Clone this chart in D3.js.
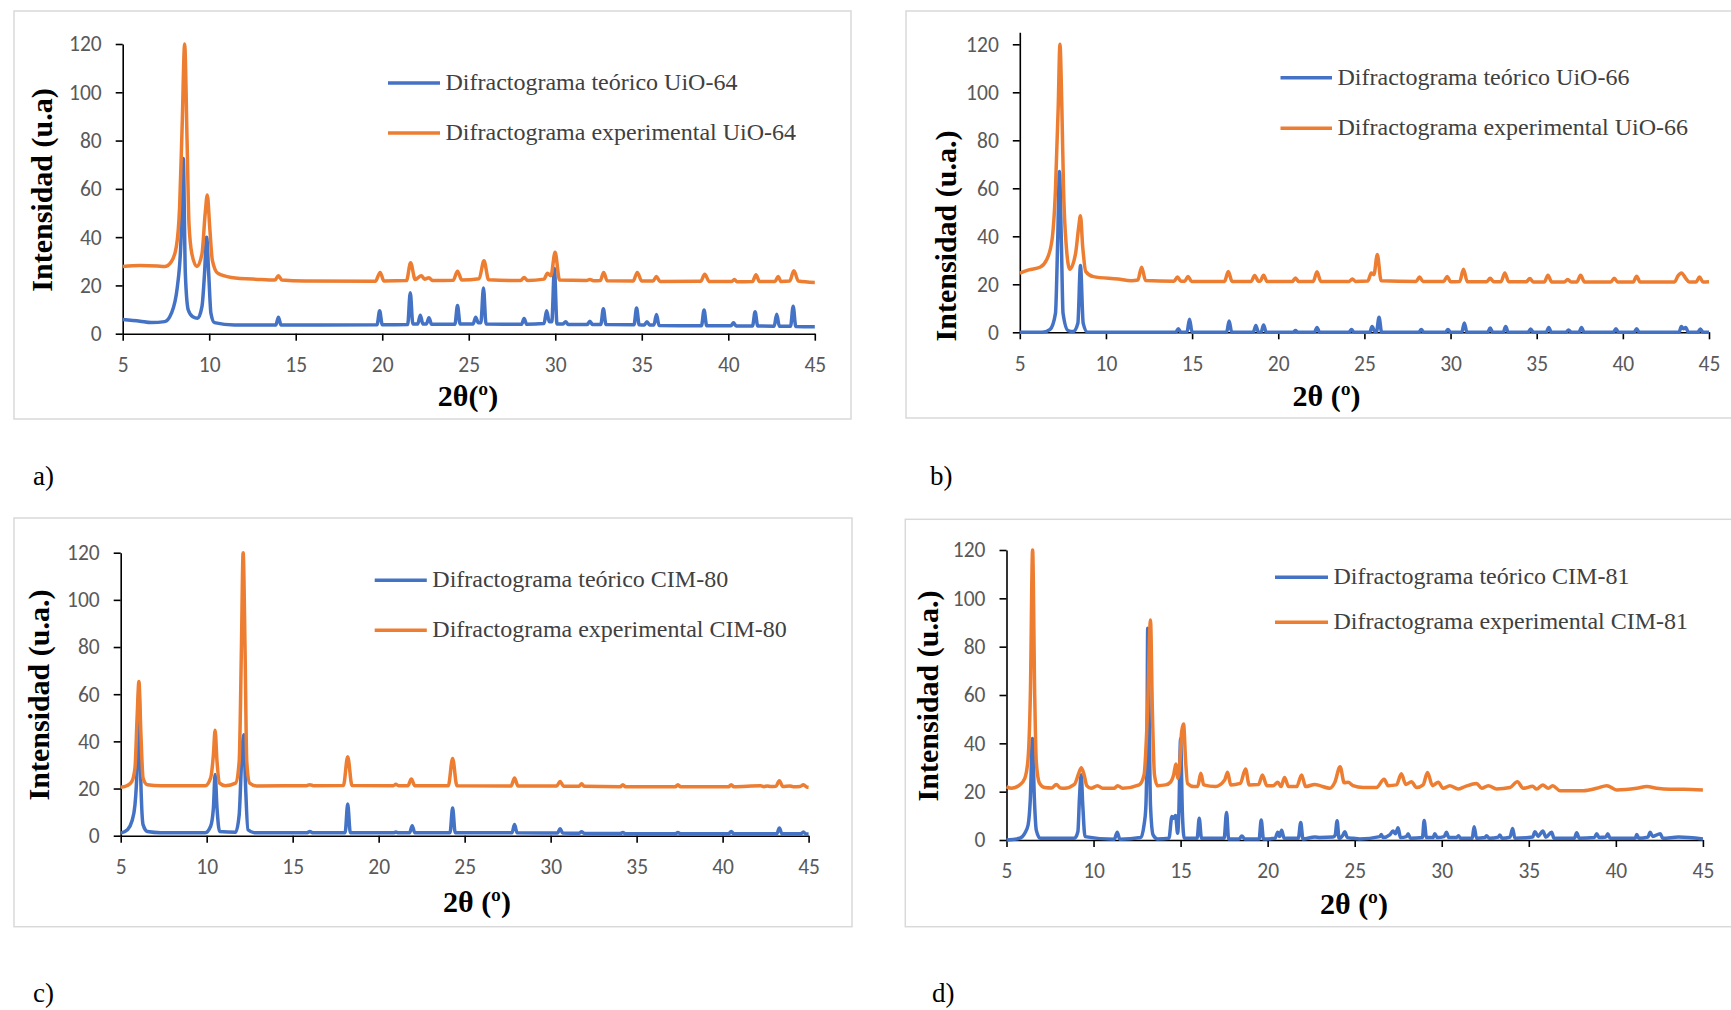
<!DOCTYPE html>
<html>
<head>
<meta charset="utf-8">
<script src="https://cdn.jsdelivr.net/npm/d3@7"></script>
<style>
  body { margin: 0; background: #fff; }
  svg { display: block; }
  .tick text { font-family: Carlito, Calibri, "Liberation Sans", sans-serif; font-size: 21.5px; fill: #595959; }
</style>
</head>
<body>
<svg id="chart" width="1731" height="1010"></svg>
<script>
var theoA = [[5,5.9],[6,5.2],[6.65,4.6],[7.43,5],[7.81,8.4],[8.16,19.5],[8.37,38.8],[8.5,72.6],[8.62,25],[8.79,9.8],[9.05,7],[9.33,6.4],[9.58,11.2],[9.73,25],[9.85,40],[9.97,25],[10.1,8.4],[10.3,4.6],[11.45,3.6],[13.85,3.6],[14.0,6.8],[14.15,3.6],[19.7,3.7],[19.85,9.5],[20.0,3.7],[21.47,3.8],[21.62,17],[21.77,4],[22.05,4],[22.2,7.6],[22.35,4],[22.55,4],[22.7,6.6],[22.85,3.9],[24.2,3.9],[24.35,11.7],[24.5,4],[25.25,4],[25.4,6.8],[25.55,4.5],[25.7,4.5],[25.85,18.9],[26.0,4],[28.05,3.9],[28.2,6.3],[28.35,3.9],[29.35,4.2],[29.5,9.5],[29.65,5],[29.8,5],[29.95,27],[30.1,4],[30.45,4],[30.6,5],[30.75,3.8],[31.85,3.8],[32.0,5.2],[32.15,3.8],[32.63,3.8],[32.78,10.3],[32.93,3.8],[34.55,3.7],[34.7,10.6],[34.85,3.7],[35.15,3.6],[35.3,5],[35.45,3.6],[35.7,3.6],[35.85,8],[36.0,3.4],[38.45,3.3],[38.6,9.8],[38.75,3.3],[40.15,3.3],[40.3,4.5],[40.45,3.2],[41.4,3.2],[41.55,9.1],[41.7,3.2],[42.65,3.1],[42.8,8.1],[42.95,3.1],[43.6,3.1],[43.75,11.4],[43.9,3],[45,2.9]];
var expA = [[5,27.8],[6,28.2],[7,28],[7.43,27.8],[7.81,29.8],[8.1,36],[8.29,52.6],[8.44,87],[8.58,120],[8.72,80],[8.83,45.7],[9.0,33],[9.29,27.8],[9.58,33],[9.77,50],[9.89,57.5],[10.03,44],[10.18,30.5],[10.5,25],[11.28,23.3],[12.82,22.5],[13.8,22.2],[14.0,24],[14.2,22.2],[15.5,21.8],[19.6,21.7],[19.88,25.4],[20.1,21.8],[21.4,22],[21.64,29.4],[21.9,22.5],[22.26,24],[22.45,22.6],[22.7,23.2],[22.9,22],[24.1,22.1],[24.35,25.9],[24.6,22.2],[25.6,22.8],[25.88,30.2],[26.15,22.3],[28.0,22],[28.2,23.3],[28.4,22],[29.35,22.6],[29.55,25],[29.75,24],[29.99,33.7],[30.25,22.2],[31.8,22],[32.0,22.5],[32.2,21.9],[32.6,22],[32.8,25.4],[33.0,21.9],[34.5,21.8],[34.74,25.4],[35.0,21.8],[35.65,21.8],[35.85,23.7],[36.05,21.6],[38.4,21.7],[38.64,24.6],[38.9,21.6],[40.2,21.6],[40.35,22.5],[40.5,21.5],[41.4,21.6],[41.6,24.4],[41.8,21.6],[42.7,21.6],[42.88,23.7],[43.05,21.6],[43.55,21.8],[43.79,26.1],[44.05,21.8],[45,21.2]];

var theoB = [[5,0],[6.3,0],[6.76,1.25],[7.07,7.9],[7.2,38.5],[7.3,67],[7.41,38.5],[7.51,7.9],[7.8,0.7],[8.1,0.3],[8.37,3.75],[8.52,27.8],[8.68,3.75],[8.94,0],[14.05,0],[14.2,1.5],[14.35,0],[14.7,0],[14.85,5.4],[15.0,0],[17.0,0],[17.15,4.7],[17.3,0],[18.55,0],[18.7,2.8],[18.85,0],[19.0,0],[19.15,3],[19.3,0],[20.85,0],[21,0.7],[21.15,0],[22.1,0],[22.25,2],[22.4,0],[24.1,0],[24.25,1.2],[24.4,0],[25.3,0],[25.45,2.4],[25.6,0.3],[25.7,0.3],[25.85,6.25],[26.0,0],[28.15,0],[28.3,1.2],[28.45,0],[29.7,0],[29.85,1.2],[30,0],[30.65,0],[30.8,3.9],[30.95,0],[32.15,0],[32.3,1.8],[32.45,0],[33.05,0],[33.2,2.4],[33.35,0],[34.5,0],[34.65,1.4],[34.8,0],[35.55,0],[35.7,2],[35.85,0],[36.7,0],[36.85,1],[37.0,0],[37.45,0],[37.6,2],[37.75,0],[39.45,0],[39.6,1.5],[39.75,0],[40.65,0],[40.8,1.5],[40.95,0],[43.25,0],[43.4,2.4],[43.52,1.5],[43.65,2],[43.8,0],[44.35,0],[44.5,1.4],[44.65,0],[45,0]];
var expB = [[5,24.6],[5.52,26],[6.17,27.1],[6.55,30.1],[6.87,38.5],[7.07,59.3],[7.23,94],[7.33,120],[7.44,94],[7.54,59.3],[7.7,35.7],[7.9,26.3],[8.24,33],[8.42,44],[8.52,48.6],[8.65,35.7],[8.83,25.3],[9.27,23.2],[10.7,22.2],[11.48,21.5],[11.85,21.8],[12.07,27.1],[12.3,21.6],[13.95,21.3],[14.15,23],[14.35,21.3],[14.57,21.3],[14.77,23.3],[14.97,21.2],[16.88,21.2],[17.1,25.3],[17.32,21.2],[18.43,21.2],[18.63,23.7],[18.85,21.3],[18.95,21.3],[19.15,23.8],[19.35,21.2],[20.82,21.2],[21,22.6],[21.18,21.2],[22.03,21.2],[22.25,25.2],[22.47,21.2],[24.12,21.2],[24.3,22.2],[24.48,21.2],[25.2,21.4],[25.4,24.7],[25.55,24],[25.75,32.4],[25.97,21.5],[28.0,21.2],[28.2,23],[28.4,21.2],[29.6,21.2],[29.8,23.3],[30.0,21.1],[30.53,21.2],[30.75,26.3],[30.97,21.1],[32.1,21.1],[32.3,22.5],[32.5,21.1],[32.93,21.1],[33.15,24.7],[33.37,21.1],[34.4,21.1],[34.6,22.4],[34.8,21],[35.45,21],[35.65,23.8],[35.87,21],[36.6,21],[36.8,22],[37.0,21],[37.33,21],[37.55,23.8],[37.77,21],[39.3,21],[39.5,22.5],[39.7,21],[40.6,21],[40.8,23.4],[41.0,21],[43.0,21],[43.2,23.5],[43.4,24.7],[43.65,22.5],[43.85,21],[44.25,21],[44.45,23],[44.65,21],[45,21.1]];

var theoC = [[5,1.1],[5.39,2.5],[5.65,6.1],[5.83,13.1],[5.96,30],[6.06,62],[6.17,23],[6.3,4.7],[6.55,1.8],[7.33,1.3],[9.92,1.3],[10.23,4],[10.39,11.7],[10.49,26],[10.6,11.7],[10.75,1.8],[11.68,1.5],[11.89,8.9],[12.02,30],[12.15,42.8],[12.25,23],[12.4,2.5],[12.77,1.3],[15.85,1.3],[16,1.8],[16.15,1.3],[18.05,1.3],[18.2,13.4],[18.35,1.3],[20.9,1.3],[21,1.6],[21.1,1.3],[21.8,1.3],[21.95,4.2],[22.1,1.3],[24.15,1.3],[24.3,11.7],[24.45,1.3],[27.75,1.2],[27.9,4.7],[28.05,1.2],[30.4,1.1],[30.55,3],[30.7,1.1],[31.65,1],[31.8,1.7],[31.95,1],[34.05,0.9],[34.2,1.4],[34.35,0.8],[37.25,0.8],[37.4,1.4],[37.55,0.8],[40.35,0.8],[40.5,1.8],[40.65,0.8],[43.15,0.8],[43.3,3.3],[43.45,0.8],[44.55,0.8],[44.7,1.6],[44.85,0.7],[45,0.7]];
var expC = [[5,20.5],[5.39,21.3],[5.65,23],[5.83,28.7],[5.96,51.3],[6.06,65.4],[6.17,44.2],[6.3,24.5],[6.55,21.6],[7.33,21.2],[9.92,21.2],[10.23,24.5],[10.39,34.3],[10.49,44.7],[10.6,31.5],[10.75,22.3],[11.08,21.2],[11.68,22.3],[11.89,31.5],[12.02,79.6],[12.12,120],[12.23,79.6],[12.33,31.5],[12.5,22.3],[12.9,21.1],[15.8,21.2],[16,21.6],[16.2,21.2],[17.95,21.3],[18.2,33.5],[18.45,21.3],[20.85,21.2],[21,21.8],[21.15,21.2],[21.7,21.2],[21.9,24],[22.1,21.2],[24.05,21.2],[24.3,32.7],[24.55,21.2],[27.7,21.1],[27.9,24.5],[28.1,21.1],[30.35,21.1],[30.55,23],[30.75,21],[31.65,21],[31.8,22],[31.95,21],[34.05,20.8],[34.2,21.6],[34.35,20.8],[37.25,20.8],[37.4,21.6],[37.55,20.8],[40.35,20.8],[40.5,21.6],[40.65,20.8],[42.2,21.2],[42.4,20.8],[42.6,21.1],[42.8,20.9],[43.1,21],[43.3,23.3],[43.5,20.9],[43.9,21.1],[44.1,20.8],[44.5,20.9],[44.7,21.6],[44.9,20.6],[45,20.5]];

var theoD = [[5,0],[5.76,0.7],[6.05,2.8],[6.24,6.2],[6.37,17.2],[6.49,42],[6.6,17.2],[6.71,4.1],[6.94,0.7],[8.9,0.7],[9.1,3.4],[9.19,17.2],[9.29,27],[9.38,14.5],[9.51,1.4],[11.19,0.3],[11.36,3.2],[11.51,0.3],[12.71,1],[12.9,6.2],[13.0,13.1],[13.07,39],[13.11,87.6],[13.19,53],[13.27,14.5],[13.42,2.1],[13.67,0.4],[14.33,0.7],[14.5,9.7],[14.6,9],[14.71,10.1],[14.83,2.8],[14.9,11.7],[15.0,42],[15.1,11.7],[15.21,0.7],[15.95,0.7],[16.07,9],[16.2,0.7],[17.5,0.7],[17.64,11.4],[17.76,0.4],[18.37,0.4],[18.52,1.7],[18.68,0.4],[19.51,0.4],[19.63,8.3],[19.76,0.4],[20.43,0.7],[20.58,3.2],[20.69,1.4],[20.8,4],[20.95,0.7],[21.76,0.7],[21.9,7.2],[22.03,0.4],[22.71,1.2],[23,1],[23.76,1.2],[23.88,2.1],[23.99,8],[24.1,0.7],[24.33,2.1],[24.43,3.4],[24.58,1],[24.92,0.7],[25.29,0.4],[26.44,1.4],[26.53,2.3],[26.63,1],[27.01,2.1],[27.2,3.7],[27.34,2.6],[27.49,5.1],[27.63,1],[27.97,1.4],[28.07,2.6],[28.2,0.7],[28.89,1],[28.99,8.1],[29.12,1],[29.5,1],[29.6,2.6],[29.74,1],[30.14,1.4],[30.27,3.2],[30.41,1],[30.85,1],[30.96,1.8],[31.08,0.7],[31.75,0.7],[31.86,5.5],[32,0.7],[32.48,1],[32.57,1.8],[32.73,0.7],[33.25,1.2],[33.34,2.1],[33.46,0.7],[33.92,1.2],[34.07,4.8],[34.2,0.7],[35.22,1.2],[35.35,3.4],[35.54,1.5],[35.8,3.7],[35.99,1.2],[36.31,3.2],[36.45,0.7],[37.62,0.7],[37.75,3],[37.9,0.7],[38.77,1],[38.9,2.6],[39.04,1],[39.42,1.2],[39.54,2.6],[39.67,0.7],[41.11,0.7],[41.2,2.3],[41.32,0.7],[41.84,1.2],[41.97,3.2],[42.12,1.5],[42.55,2.6],[42.7,0.7],[43.6,1.2],[45,0.4]];
var expD = [[5,22.1],[5.29,21.4],[5.76,22.8],[6.05,25.5],[6.24,33.8],[6.37,60],[6.5,120],[6.62,60],[6.71,32.4],[6.9,23.4],[7.19,21.7],[7.6,21.5],[7.86,23],[8.1,21.5],[8.33,21.4],[8.9,23],[9.15,27.6],[9.3,29.9],[9.46,26.9],[9.61,22.5],[9.86,21.4],[10.22,22.5],[10.52,21.4],[11.2,21.4],[11.38,22.5],[11.67,21.4],[12.62,22.8],[12.9,26.9],[13.1,53],[13.27,91],[13.38,53],[13.5,26.9],[13.67,22.5],[14.14,22.8],[14.43,24],[14.6,26.9],[14.73,31.4],[14.85,25.5],[14.96,32.4],[15.06,44.8],[15.17,48],[15.29,32.4],[15.4,23.4],[15.76,22.1],[15.98,22.1],[16.16,27.6],[16.33,22.8],[17.0,22.1],[17.53,24.8],[17.7,28],[17.88,22.8],[18.43,23.4],[18.73,29.4],[18.94,22.8],[19.48,23],[19.7,26.9],[19.95,22.5],[20.33,22.5],[20.58,23.9],[20.77,22.1],[20.97,25.9],[21.2,22.1],[21.67,22.1],[21.95,26.9],[22.18,22.1],[22.71,23],[23,22.5],[23.57,21.4],[23.86,23.9],[24.16,30.3],[24.4,23.7],[24.62,23.9],[24.9,22.5],[25.48,21.7],[26.25,21.7],[26.69,25.1],[26.92,22.5],[27.4,22.8],[27.68,27.4],[27.93,23],[28.26,24.1],[28.55,21.7],[28.93,22.8],[29.18,27.9],[29.47,22.5],[29.8,23.9],[30.08,21.4],[30.46,22.5],[30.94,21.1],[31.33,22.1],[32,23.4],[32.29,21.4],[32.67,22.5],[33.15,21.1],[33.92,21.7],[34.34,24.1],[34.68,21.4],[35.22,22.2],[35.45,21.1],[35.8,22.8],[36.12,21.4],[36.37,22.5],[36.79,20.4],[38.13,20.4],[38.9,21.4],[39.48,22.5],[40.05,20.7],[41.2,21.4],[41.78,22.1],[42.35,21.4],[43.12,21],[43.89,21],[45,20.7]];

var xTicks = [5, 10, 15, 20, 25, 30, 35, 40, 45];
var yTicks = [0, 20, 40, 60, 80, 100, 120];
var names = ["UiO-64", "UiO-66", "CIM-80", "CIM-81"];
var yTitles = ["Intensidad (u.a)", "Intensidad (u.a.)", "Intensidad (u.a.)", "Intensidad (u.a.)"];
var xTitles = ["2θ(º)", "2θ (º)", "2θ (º)", "2θ (º)"];
var letters = ["a)", "b)", "c)", "d)"];

var blue = "#4472C4", orange = "#ED7D31";

// posicion de cada panel en la pagina
var panels = [
  { theo: theoA, exp: expA, box: [14, 11, 851, 419], xr: [122.7, 814.8], yr: [333.7, 44], yMax: 120,
    yt: [41, 190], xt: [468, 406], leg: [388, 440, 83, 133], letter: [33, 485] },
  { theo: theoB, exp: expB, box: [906, 11, 1736, 418], xr: [1019.8, 1709], yr: [332.3, 32.3], yMax: 125,
    yt: [945, 236], xt: [1326.6, 406], leg: [1280.5, 1332, 77.7, 128.3], letter: [930, 485] },
  { theo: theoC, exp: expC, box: [14, 518, 852, 926.7], xr: [120.7, 808.6], yr: [835.7, 552.7], yMax: 120,
    yt: [38.4, 695], xt: [477, 912], leg: [374.7, 426.8, 580.3, 630.3], letter: [33, 1002] },
  { theo: theoD, exp: expD, box: [905.3, 519.3, 1736, 926.7], xr: [1006.5, 1702.9], yr: [840, 550], yMax: 120,
    yt: [927.6, 696], xt: [1354, 914], leg: [1275, 1328, 577.3, 622.3], letter: [932, 1002] }
];

var svg = d3.select("#chart");
svg.append("rect").attr("width", 1731).attr("height", 1010).attr("fill", "#fff");

panels.forEach(function(p, i) {
  var g = svg.append("g");

  g.append("rect")
    .attr("x", p.box[0]).attr("y", p.box[1])
    .attr("width", p.box[2] - p.box[0]).attr("height", p.box[3] - p.box[1])
    .attr("fill", "none").attr("stroke", "#d9d9d9").attr("stroke-width", 1.5);

  var x = d3.scaleLinear().domain([5, 45]).range(p.xr);
  var y = d3.scaleLinear().domain([0, p.yMax]).range(p.yr);

  var ax = g.append("g")
    .attr("transform", "translate(0," + y(0) + ")")
    .call(d3.axisBottom(x).tickValues(xTicks).tickSize(7).tickSizeOuter(0).tickPadding(16).tickFormat(d3.format("d")));
  var ay = g.append("g")
    .attr("transform", "translate(" + x(5) + ",0)")
    .call(d3.axisLeft(y).tickValues(yTicks).tickSize(7).tickSizeOuter(0).tickPadding(14).tickFormat(d3.format("d")));
  [ax, ay].forEach(function(a) {
    a.select(".domain").attr("stroke", "#000").attr("stroke-width", 1.6);
    a.selectAll(".tick line").attr("stroke", "#000").attr("stroke-width", 1.6);
  });

  var line = d3.line()
    .x(function(d) { return x(d[0]); })
    .y(function(d) { return y(d[1]); })
    .curve(d3.curveMonotoneX);

  g.append("path").datum(p.theo)
    .attr("d", line).attr("fill", "none").attr("stroke", blue)
    .attr("stroke-width", 3.5).attr("stroke-linejoin", "round");
  g.append("path").datum(p.exp)
    .attr("d", line).attr("fill", "none").attr("stroke", orange)
    .attr("stroke-width", 3.5).attr("stroke-linejoin", "round");

  // titulos de ejes
  g.append("text")
    .attr("transform", "translate(" + p.yt[0] + "," + p.yt[1] + ") rotate(-90)")
    .attr("text-anchor", "middle").attr("dominant-baseline", "central")
    .style("font-family", "'Liberation Serif', 'Times New Roman', serif")
    .style("font-weight", "bold").style("font-size", "30px")
    .text(yTitles[i]);
  g.append("text")
    .attr("x", p.xt[0]).attr("y", p.xt[1])
    .attr("text-anchor", "middle")
    .style("font-family", "'Liberation Serif', 'Times New Roman', serif")
    .style("font-weight", "bold").style("font-size", "30px")
    .text(xTitles[i]);

  // leyenda
  var legs = [
    { c: blue, t: "Difractograma teórico " + names[i], yy: p.leg[2] },
    { c: orange, t: "Difractograma experimental " + names[i], yy: p.leg[3] }
  ];
  legs.forEach(function(l) {
    g.append("line")
      .attr("x1", p.leg[0]).attr("x2", p.leg[1]).attr("y1", l.yy).attr("y2", l.yy)
      .attr("stroke", l.c).attr("stroke-width", 3.5);
    g.append("text")
      .attr("x", p.leg[1] + 5.5).attr("y", l.yy + 7)
      .style("font-family", "'Liberation Serif', 'Times New Roman', serif")
      .style("font-size", "24px").style("fill", "#404040")
      .text(l.t);
  });

  svg.append("text")
    .attr("x", p.letter[0]).attr("y", p.letter[1])
    .style("font-family", "'Liberation Serif', 'Times New Roman', serif")
    .style("font-size", "27px").style("fill", "#000")
    .text(letters[i]);
});
</script>
</body>
</html>
